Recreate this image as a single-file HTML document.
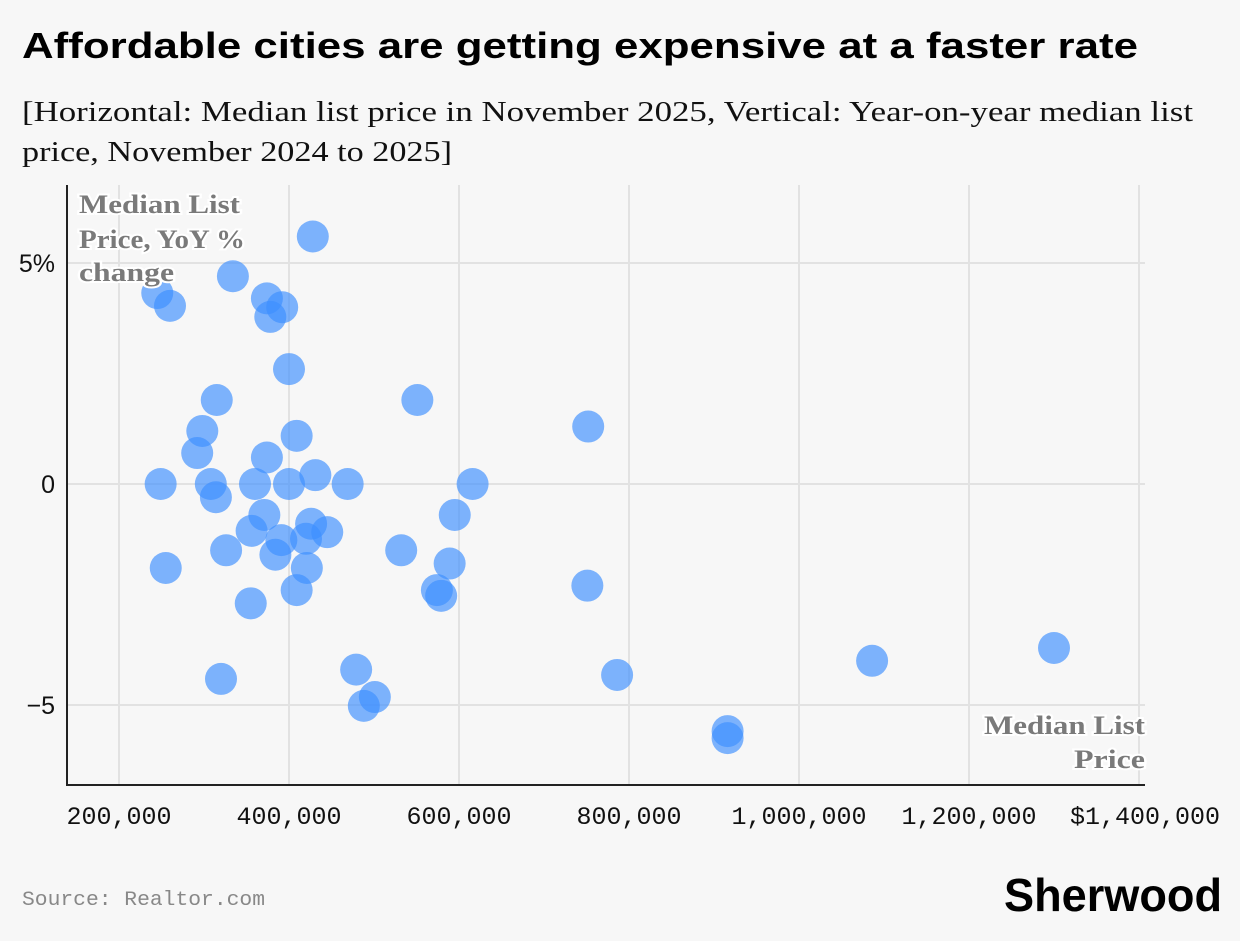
<!DOCTYPE html>
<html><head><meta charset="utf-8"><style>
body{margin:0;background:#f7f7f7;width:1240px;height:936px;overflow:hidden;font-family:"Liberation Sans",sans-serif}
</style></head><body>
<svg width="1240" height="936" xmlns="http://www.w3.org/2000/svg">
<rect width="1240" height="936" fill="#f7f7f7"/>
<text x="22" y="58" font-size="36" font-weight="bold" fill="#000" textLength="1116" lengthAdjust="spacingAndGlyphs">Affordable cities are getting expensive at a faster rate</text>
<g font-family="Liberation Serif" font-size="28" fill="#111"><text x="22" y="121" textLength="1171" lengthAdjust="spacingAndGlyphs">[Horizontal: Median list price in November 2025, Vertical: Year-on-year median list</text><text x="22" y="161" textLength="430" lengthAdjust="spacingAndGlyphs">price, November 2024 to 2025]</text></g>
<g id="grid"></g>
<g id="axes"></g>
<g id="pts"></g>
<g font-family="Liberation Serif" font-weight="bold" font-size="26" fill="#7a7a7a" stroke="#fff" stroke-width="4" paint-order="stroke">
<text x="79" y="213" textLength="161" lengthAdjust="spacingAndGlyphs">Median List</text><text x="79" y="248" textLength="166" lengthAdjust="spacingAndGlyphs">Price, YoY %</text><text x="79" y="281" textLength="95" lengthAdjust="spacingAndGlyphs">change</text></g>
<g font-family="Liberation Serif" font-weight="bold" font-size="26" fill="#7a7a7a" stroke="#fff" stroke-width="4" paint-order="stroke">
<text x="984" y="734" textLength="161" lengthAdjust="spacingAndGlyphs">Median List</text><text x="1074" y="768" textLength="71" lengthAdjust="spacingAndGlyphs">Price</text></g>
<text x="22" y="905" font-family="Liberation Mono" font-size="20" fill="#888" textLength="243" lengthAdjust="spacingAndGlyphs">Source: Realtor.com</text>
<text x="1004" y="911" font-size="46" font-weight="bold" fill="#000" textLength="218" lengthAdjust="spacingAndGlyphs">Sherwood</text>
</svg>
<script>
const prices=[245,260,334,428,374,392,378,400,315,551,752,298,409,292,374,249,308,360,400,431,469,616,314,595,371,426,356,445,391,420,326,384,532,589,255,421,751,409,574,579,355,479,320,786,501,488,1086,1300,916,916];
const changes=[4.32,4.03,4.7,5.6,4.2,4.0,3.78,2.6,1.9,1.9,1.3,1.2,1.09,0.7,0.6,0,0,0,0,0.2,0,0,-0.3,-0.7,-0.7,-0.9,-1.06,-1.09,-1.27,-1.24,-1.5,-1.6,-1.5,-1.8,-1.9,-1.9,-2.3,-2.4,-2.4,-2.53,-2.7,-4.2,-4.41,-4.32,-4.82,-5.02,-4.0,-3.71,-5.59,-5.75];
const xTicks=[200000,400000,600000,800000,1000000,1200000,1400000];
const xTickLabels=["200,000","400,000","600,000","800,000","1,000,000","1,200,000","$1,400,000"];
const yTicks=[5,0,-5];
const yTickLabels=["5%","0","\u22125"];
const X=v=>119+(v-200000)*0.00085;
const Y=v=>484-v*44.2;
const NS="http://www.w3.org/2000/svg";
function mk(p,t,a){const e=document.createElementNS(NS,t);for(const k in a)e.setAttribute(k,a[k]);p.appendChild(e);return e;}
const grid=document.getElementById('grid'),axes=document.getElementById('axes'),pts=document.getElementById('pts');
xTicks.forEach((v,i)=>{
 const l=mk(grid,'line',{x1:X(v),x2:X(v),y1:185,y2:785,stroke:'#e2e2e2','stroke-width':2});
 
 
 const last=i==xTicks.length-1;
 const t=mk(axes,'text',{x:last?1220:X(v),y:824,'text-anchor':last?'end':'middle','font-family':'Liberation Mono','font-size':25,fill:'#111'});
 t.textContent=xTickLabels[i];
 
 
});
yTicks.forEach((v,i)=>{
 const l=mk(grid,'line',{x1:67,x2:1145,y1:Y(v),y2:Y(v),stroke:'#e2e2e2','stroke-width':2});
 
 
 const t=mk(axes,'text',{x:55,y:Y(v)+9,'text-anchor':'end','font-size':25,fill:'#111'});
 t.textContent=yTickLabels[i];
 
 
});
const ya=mk(axes,'line',{x1:67,x2:67,y1:185,y2:786,stroke:'#222','stroke-width':2});


const xa=mk(axes,'line',{x1:66,x2:1145,y1:785,y2:785,stroke:'#222','stroke-width':2});


prices.forEach((p,i)=>{
 const c=mk(pts,'circle',{cx:X(p*1000),cy:Y(changes[i]),r:16,fill:'#3d8fff','fill-opacity':0.66});
 
 
});
</script>
</body></html>
